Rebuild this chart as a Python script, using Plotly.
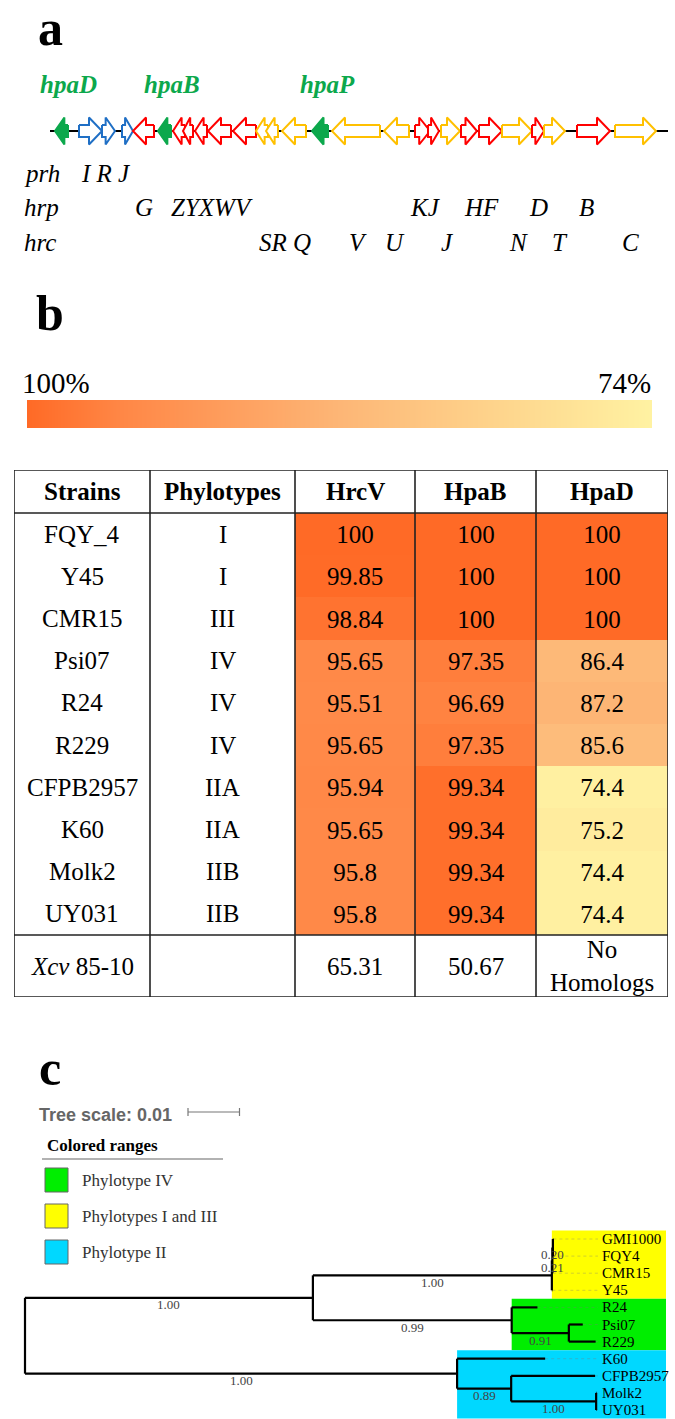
import numpy as np
import plotly.graph_objects as go

W, H = 675, 1419

# ---------------- Panel a: hrp gene cluster (positions in kb) ----------------
gene_start = [0.20, 1.16, 2.08, 2.88, 3.32, 4.32, 4.92, 5.32, 5.80, 6.32, 7.32, 8.24, 8.64, 9.28,
              10.48, 11.28, 13.36, 14.60, 15.12, 15.64, 16.44, 17.16, 18.08, 19.28, 19.76, 21.08, 22.60]
gene_end = [0.72, 2.08, 2.60, 3.32, 4.16, 4.84, 5.40, 5.72, 6.28, 7.24, 8.24, 8.72, 9.12, 10.24,
            11.12, 13.20, 14.36, 15.20, 15.56, 16.40, 17.08, 18.08, 19.28, 19.76, 20.60, 22.40, 24.24]
gene_strand = [-1, 1, 1, 1] + [-1] * 13 + [1] * 10
gene_family = ["hpa", "prh", "prh", "prh", "hrp", "hpa", "hrp", "hrp", "hrp", "hrp", "hrp",
               "hrc", "hrc", "hrc", "hpa", "hrc", "hrc", "hrp", "hrp", "hrc", "hrp", "hrp",
               "hrc", "hrp", "hrc", "hrp", "hrc"]
cluster_length = 24.72
hpa_names = ["hpaD", "hpaB", "hpaP"]
row_prefix = ["prh", "hrp", "hrc"]
row_letters = [["I R J"],
               ["G", "ZYXWV", "KJ", "HF", "D", "B"],
               ["SR Q", "V", "U", "J", "N", "T", "C"]]
row_letter_kb = [[2.24],
                 [3.76, 6.48, 15.0, 17.24, 19.52, 21.44],
                 [9.4, 12.32, 13.8, 15.88, 18.72, 20.4, 23.2]]

# ---------------- Panel b: identity table ----------------
col_headers = ["Strains", "Phylotypes", "HrcV", "HpaB", "HpaD"]
strains = ["FQY_4", "Y45", "CMR15", "Psi07", "R24", "R229", "CFPB2957", "K60", "Molk2", "UY031"]
phylotypes = ["I", "I", "III", "IV", "IV", "IV", "IIA", "IIA", "IIB", "IIB"]
hrcv = [100, 99.85, 98.84, 95.65, 95.51, 95.65, 95.94, 95.65, 95.8, 95.8]
hpab = [100, 100, 100, 97.35, 96.69, 97.35, 99.34, 99.34, 99.34, 99.34]
hpad = [100, 100, 100, 86.4, 87.2, 85.6, 74.4, 75.2, 74.4, 74.4]
xcv_row = ["<i>Xcv</i> 85-10", "", "65.31", "50.67", "No<br>Homologs"]
scale_max, scale_min = 100, 74

# ---------------- Panel c: phylogenetic tree ----------------
# (name, branch length, support, children)
TREE = ("root", 0.0, None, [
    ("A", 0.0559, 1.00, [
        ("Y3", 0.0464, 1.00, [
            ("Y2", 0.0001, 0.21, [
                ("Y1", 0.0001, 0.20, [("GMI1000", 0.0001, None, []), ("FQY4", 0.0001, None, [])]),
                ("CMR15", 0.0001, None, [])]),
            ("Y45", 0.0001, None, [])]),
        ("G", 0.0386, 0.99, [
            ("R24", 0.0050, None, []),
            ("Gs", 0.0111, 0.91, [("Psi07", 0.0027, None, []), ("R229", 0.0052, None, [])])])]),
    ("C", 0.0839, 1.00, [
        ("K60", 0.0171, None, []),
        ("C2", 0.0105, 0.89, [
            ("CFPB2957", 0.0163, None, []),
            ("C3", 0.0165, 1.00, [("Molk2", 0.0001, None, []), ("UY031", 0.0001, None, [])])])])])
clade_ranges = [("Y3", "Phylotypes I and III", "#FFFF00"),
                ("G", "Phylotype IV", "#00EE00"),
                ("C", "Phylotype II", "#00D8FF")]
legend_order = ["Phylotype IV", "Phylotypes I and III", "Phylotype II"]
tree_scale = 0.01

# ====================================================================
SERIF = "Liberation Serif"
SANS = "Liberation Sans"
COLORSCALE = [[0.0, "#FFF2A2"], [0.5, "#FDB676"], [0.85, "#FF8746"], [1.0, "#FF6A26"]]
FAM_COLOR = {"hpa": "#0CA84C", "prh": "#1F6FC5", "hrp": "#FF0000", "hrc": "#FFC000"}


def dx(a, b):
    return [a / W, b / W]


def dy(top, bottom):
    return [1 - bottom / H, 1 - top / H]


fig = go.Figure()
ann = []
shapes = []
hid = dict(visible=False, showgrid=False, zeroline=False, fixedrange=True)

# canvas axis (pixel-like layout coordinates for free text)
fig.add_trace(go.Scatter(x=[0], y=[0], mode="markers", marker=dict(opacity=0),
                         xaxis="x", yaxis="y", hoverinfo="skip"))

# ---------------- Panel a ----------------
GX0, GX1, GY = 50, 668, 131
px_per_kb = (GX1 - GX0) / cluster_length
HEAD = 13 / px_per_kb
BH, HH = 6.0, 13.5
fig.add_trace(go.Scatter(x=[0, cluster_length], y=[0, 0], mode="lines",
                         line=dict(color="black", width=2), xaxis="x2", yaxis="y2", hoverinfo="skip"))
for s, e, st, fam in zip(gene_start, gene_end, gene_strand, gene_family):
    L = e - s
    hl = min(HEAD, 0.72 * L)
    if st > 0:
        xs = [s, e - hl, e - hl, e, e - hl, e - hl, s, s]
    else:
        xs = [e, s + hl, s + hl, s, s + hl, s + hl, e, e]
    ys = [BH, BH, HH, 0, -HH, -BH, -BH, BH]
    col = FAM_COLOR[fam]
    fig.add_trace(go.Scatter(x=xs, y=ys, mode="lines", fill="toself",
                             fillcolor=col if fam == "hpa" else "white",
                             line=dict(color=col, width=2), xaxis="x2", yaxis="y2",
                             hoverinfo="skip"))
hpa_idx = [i for i, f in enumerate(gene_family) if f == "hpa"]
for name, i in zip(hpa_names, hpa_idx):
    ann.append(dict(x=(gene_start[i] + gene_end[i]) / 2, y=84, xref="x2", yref="y",
                    text=f"<b><i>{name}</i></b>", showarrow=False, xshift=7,
                    font=dict(family=SERIF, size=25, color="#0CA84C")))
row_y = [173, 207, 242]
for pre, letters, poss, yy in zip(row_prefix, row_letters, row_letter_kb, row_y):
    ann.append(dict(x=22, y=yy, xref="x", yref="y", text=f"<i>{pre}</i>", showarrow=False,
                    xanchor="left", font=dict(family=SERIF, size=25, color="black")))
    for t, p in zip(letters, poss):
        ann.append(dict(x=p, y=yy, xref="x2", yref="y", text=f"<i>{t}</i>", showarrow=False,
                        font=dict(family=SERIF, size=25, color="black")))

# panel letters
for t, yy in [("a", 28), ("b", 313), ("c", 1068)]:
    ann.append(dict(x=50, y=yy, xref="x", yref="y", text=f"<b>{t}</b>", showarrow=False,
                    font=dict(family=SERIF, size=50, color="black")))

# ---------------- Panel b: gradient bar ----------------
fig.add_trace(go.Heatmap(z=[[scale_max, scale_min], [scale_max, scale_min]], x=[0, 1], y=[0, 1],
                         zsmooth="best", colorscale=COLORSCALE, zmin=scale_min, zmax=scale_max,
                         showscale=False, xaxis="x3", yaxis="y3", hoverinfo="skip"))
ann.append(dict(x=20, y=383, xref="x", yref="y", text=f"{scale_max}%", showarrow=False,
                xanchor="left", font=dict(family=SERIF, size=29, color="black")))
ann.append(dict(x=653, y=383, xref="x", yref="y", text=f"{scale_min}%", showarrow=False,
                xanchor="right", font=dict(family=SERIF, size=29, color="black")))

# ---------------- Panel b: table ----------------
col_edges = [0, 136, 281, 401, 522, 654]
head_h, row_h, last_h = 43, 42.2, 62
n = len(strains)
row_edges = [head_h + row_h * i for i in range(n + 1)]
table_h = row_edges[-1] + last_h
z = np.array([hrcv, hpab, hpad]).T
txt = [[f"{v:g}" for v in r] for r in z]
fig.add_trace(go.Heatmap(z=z, x=col_edges[2:], y=row_edges, colorscale=COLORSCALE,
                         zmin=scale_min, zmax=scale_max, showscale=False, text=txt,
                         texttemplate="%{text}", textfont=dict(family=SERIF, size=25, color="black"),
                         xaxis="x4", yaxis="y4", hoverinfo="skip"))
cc = [(col_edges[i] + col_edges[i + 1]) / 2 for i in range(5)]
for c, h in zip(cc, col_headers):
    ann.append(dict(x=c, y=head_h / 2, xref="x4", yref="y4", text=f"<b>{h}</b>", showarrow=False,
                    font=dict(family=SERIF, size=25, color="black")))
for i in range(n):
    yc = (row_edges[i] + row_edges[i + 1]) / 2
    for c, t in zip(cc[:2], [strains[i], phylotypes[i]]):
        ann.append(dict(x=c, y=yc, xref="x4", yref="y4", text=t, showarrow=False,
                        font=dict(family=SERIF, size=25, color="black")))
yc = row_edges[-1] + last_h / 2
for c, t in zip(cc, xcv_row):
    if t:
        ann.append(dict(x=c, y=yc, xref="x4", yref="y4", text=t, showarrow=False,
                        font=dict(family=SERIF, size=25, color="black")))
lc = dict(color="#222", width=1.6)
shapes.append(dict(type="rect", x0=0, x1=col_edges[-1], y0=0, y1=table_h, xref="x4", yref="y4",
                   line=lc, layer="above"))
for xe in col_edges[1:-1]:
    shapes.append(dict(type="line", x0=xe, x1=xe, y0=0, y1=table_h, xref="x4", yref="y4",
                       line=lc, layer="above"))
for ye in [head_h, row_edges[-1]]:
    shapes.append(dict(type="line", x0=0, x1=col_edges[-1], y0=ye, y1=ye, xref="x4", yref="y4",
                       line=lc, layer="above"))

# ---------------- Panel c: tree ----------------
k = tree_scale / 51.5  # tree units per pixel
segs_x, segs_y = [], []
leaves = []
nodes = {}
supports = []
counter = [0]


def lay(node, x0):
    name, length, sup, children = node
    x = x0 + length
    if not children:
        y = counter[0]
        counter[0] += 1
        leaves.append((name, x, y))
        lo = hi = y
    else:
        res = [lay(c, x) for c in children]
        ys = [r[0] for r in res]
        y = (ys[0] + ys[-1]) / 2
        lo = min(r[1] for r in res)
        hi = max(r[2] for r in res)
        segs_x.extend([x, x, None])
        segs_y.extend([ys[0], ys[-1], None])
    if length > 0:
        segs_x.extend([x0, x, None])
        segs_y.extend([y, y, None])
    if sup is not None:
        supports.append(((x0 + x) / 2, y, sup))
    nodes[name] = (x, lo, hi)
    return y, lo, hi


lay(TREE, 0.0)
label_x = 575 * k
right_x = 641 * k
for cname, lname, col in clade_ranges:
    x, lo, hi = nodes[cname]
    fig.add_trace(go.Scatter(x=[x, right_x, right_x, x, x], y=[lo - .5, lo - .5, hi + .5, hi + .5, lo - .5],
                             mode="lines", fill="toself", fillcolor=col, line=dict(width=0, color=col),
                             xaxis="x5", yaxis="y5", hoverinfo="skip"))
dot_x, dot_y = [], []
for name, x, y in leaves:
    dot_x += [x, label_x - 0.0004, None]
    dot_y += [y, y, None]
fig.add_trace(go.Scatter(x=dot_x, y=dot_y, mode="lines",
                         line=dict(color="rgba(120,120,120,0.35)", width=1, dash="dot"),
                         xaxis="x5", yaxis="y5", hoverinfo="skip"))
fig.add_trace(go.Scatter(x=segs_x, y=segs_y, mode="lines", line=dict(color="black", width=2.2),
                         xaxis="x5", yaxis="y5", hoverinfo="skip"))
for name, x, y in leaves:
    ann.append(dict(x=label_x, y=y, xref="x5", yref="y5", text=name, showarrow=False,
                    xanchor="left", font=dict(family=SERIF, size=15, color="black")))
for x, y, s in supports:
    ann.append(dict(x=x, y=y + 0.42, xref="x5", yref="y5", text=f"{s:.2f}", showarrow=False,
                    font=dict(family=SERIF, size=13, color="#444")))

# tree scale
sb0 = 163 * k
ann.append(dict(x=37, y=1115, xref="x", yref="y", text="<b>Tree scale: 0.01</b>", showarrow=False,
                xanchor="left", font=dict(family=SANS, size=18, color="#666")))
shapes.append(dict(type="line", x0=sb0, x1=sb0 + tree_scale, y0=1112, y1=1112, xref="x5", yref="y",
                   line=dict(color="#777", width=1.2)))
for xe in [sb0, sb0 + tree_scale]:
    shapes.append(dict(type="line", x0=xe, x1=xe, y0=1108, y1=1116, xref="x5", yref="y",
                       line=dict(color="#777", width=1.2)))
# legend
ann.append(dict(x=45, y=1145, xref="x", yref="y", text="<b>Colored ranges</b>", showarrow=False,
                xanchor="left", font=dict(family=SERIF, size=17, color="black")))
shapes.append(dict(type="line", x0=42, x1=223, y0=1159, y1=1159, xref="x", yref="y",
                   line=dict(color="#999", width=1.5)))
cmap = {l: c for _, l, c in clade_ranges}
for i, lname in enumerate(legend_order):
    yc = 1180 + 36 * i
    shapes.append(dict(type="rect", x0=45, x1=68, y0=yc - 12, y1=yc + 12, xref="x", yref="y",
                       fillcolor=cmap[lname], line=dict(color="#666", width=1)))
    ann.append(dict(x=80, y=yc, xref="x", yref="y", text=lname, showarrow=False, xanchor="left",
                    font=dict(family=SERIF, size=17, color="#333")))

fig.update_layout(
    width=W, height=H, margin=dict(l=0, r=0, t=0, b=0), showlegend=False,
    paper_bgcolor="white", plot_bgcolor="rgba(0,0,0,0)",
    xaxis=dict(domain=[0, 1], range=[0, W], **hid),
    yaxis=dict(domain=[0, 1], range=[H, 0], **hid),
    xaxis2=dict(domain=dx(GX0, GX1), range=[0, cluster_length], anchor="y2", **hid),
    yaxis2=dict(domain=dy(GY - 20, GY + 20), range=[-20, 20], anchor="x2", **hid),
    xaxis3=dict(domain=dx(27, 652), range=[0, 1], anchor="y3", **hid),
    yaxis3=dict(domain=dy(400, 428), range=[0, 1], anchor="x3", **hid),
    xaxis4=dict(domain=dx(14, 668), range=[0, col_edges[-1]], anchor="y4", **hid),
    yaxis4=dict(domain=dy(470, 470 + table_h), range=[table_h, 0], anchor="x4", **hid),
    xaxis5=dict(domain=[0, 1], range=[-25 * k, 650 * k], anchor="y5", **hid),
    yaxis5=dict(domain=dy(1225, 1419), range=[(1419 - 1239) / 17.1, (1225 - 1239) / 17.1],
                anchor="x5", **hid),
    annotations=ann, shapes=shapes,
)
fig.write_html("out.html", config={"displayModeBar": False},
               post_script="document.body.style.margin='0';document.body.style.padding='0';"
                           "document.body.style.overflow='hidden';")
